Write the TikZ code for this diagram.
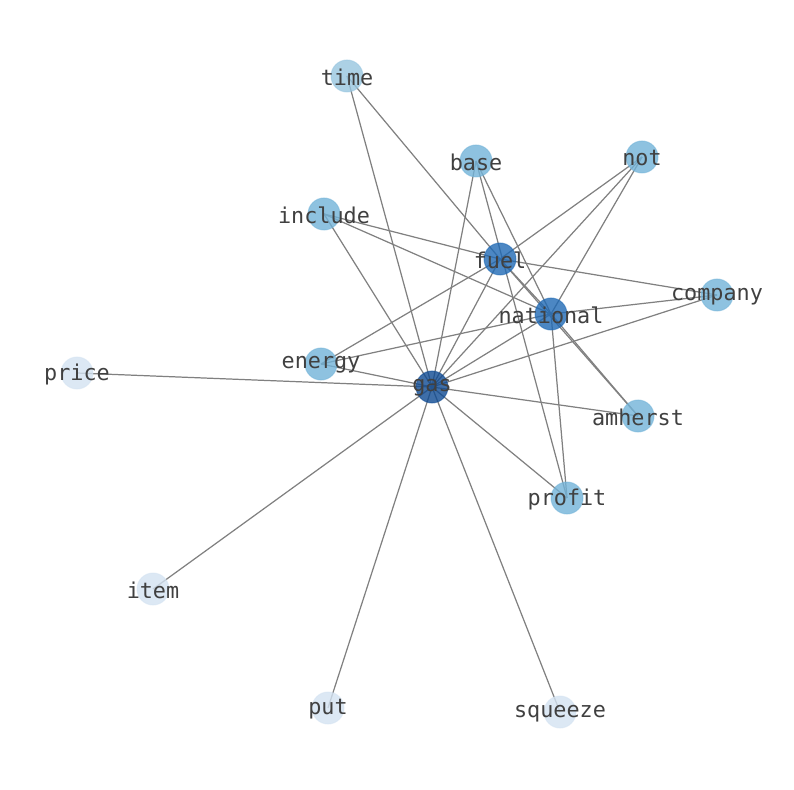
\documentclass[tikz,border=0pt]{standalone}
\usepackage{fontspec}
\setmonofont{DejaVu Sans Mono}
\usepackage{tikz}
\usetikzlibrary{backgrounds}

\definecolor{hubdark}{RGB}{14,74,146}
\definecolor{hubmid}{RGB}{31,105,180}
\definecolor{wordmid}{RGB}{114,179,216}
\definecolor{wordlow}{RGB}{151,197,223}
\definecolor{wordleaf}{RGB}{211,226,241}
\definecolor{labelgray}{RGB}{64,64,64}

\begin{document}
\begin{tikzpicture}[x=0.02cm,y=-0.02cm,
  word/.style={circle,minimum size=0.64cm,inner sep=0pt,
    fill opacity=0.8,draw opacity=0.5,line width=0.6pt,
    label={[text opacity=1,text=labelgray,yshift=-0.7pt,
      font=\ttfamily\fontsize{12.4}{14}\selectfont]center:#1}},
  edge line/.style={draw=gray,line width=0.7pt}]
\useasboundingbox (0,0) rectangle (794,790);
% words
\node[word=time,fill=wordlow,draw=wordlow] (time) at (347,76) {};
\node[word=base,fill=wordmid,draw=wordmid] (base) at (476,161) {};
\node[word=not,fill=wordmid,draw=wordmid] (not) at (642,157) {};
\node[word=include,fill=wordmid,draw=wordmid] (include) at (324,214) {};
\node[word=fuel,fill=hubmid,draw=hubmid] (fuel) at (500,259) {};
\node[word=national,fill=hubmid,draw=hubmid] (national) at (551,314) {};
\node[word=company,fill=wordmid,draw=wordmid] (company) at (717,295) {};
\node[word=price,fill=wordleaf,draw=wordleaf] (price) at (77,373) {};
\node[word=energy,fill=wordmid,draw=wordmid] (energy) at (321,364) {};
\node[word=gas,fill=hubdark,draw=hubdark] (gas) at (432,387) {};
\node[word=amherst,fill=wordmid,draw=wordmid] (amherst) at (638,416) {};
\node[word=profit,fill=wordmid,draw=wordmid] (profit) at (567,498) {};
\node[word=item,fill=wordleaf,draw=wordleaf] (item) at (153,589) {};
\node[word=put,fill=wordleaf,draw=wordleaf] (put) at (328,708) {};
\node[word=squeeze,fill=wordleaf,draw=wordleaf] (squeeze) at (560,712) {};
% co-occurrence links
\begin{scope}[on background layer]
\foreach \w in {time,base,include,energy,price,item,put,squeeze,
    profit,amherst,company,not,fuel,national}
  \draw[edge line] (gas.center) -- (\w.center);
\foreach \w in {time,include,energy,not,company,national,amherst}
  \draw[edge line] (fuel.center) -- (\w.center);
\foreach \w in {include,energy,not,company,base,profit,amherst}
  \draw[edge line] (national.center) -- (\w.center);
\draw[edge line] (base.center) -- (profit.center);
\end{scope}
\end{tikzpicture}
\end{document}
